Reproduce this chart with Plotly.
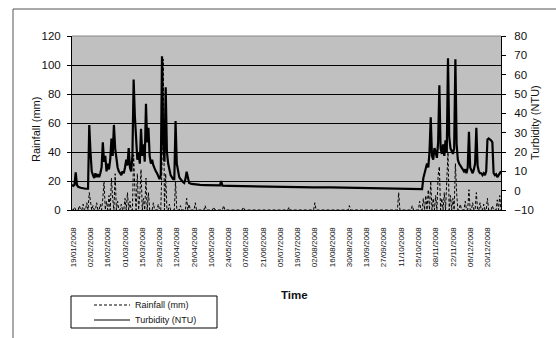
import plotly.graph_objects as go
import pandas as pd

# ---------------- data ----------------
turb_dates = [
    "2008-01-18", "2008-01-19", "2008-01-20", "2008-01-21", "2008-01-22", "2008-01-23", "2008-01-25",
    "2008-01-27", "2008-01-29", "2008-01-31",
    "2008-02-01", "2008-02-02", "2008-02-03", "2008-02-04", "2008-02-05", "2008-02-06", "2008-02-07",
    "2008-02-08", "2008-02-09", "2008-02-10", "2008-02-11", "2008-02-12", "2008-02-13", "2008-02-14",
    "2008-02-15", "2008-02-16", "2008-02-17", "2008-02-18", "2008-02-19", "2008-02-20", "2008-02-21",
    "2008-02-22", "2008-02-23", "2008-02-24", "2008-02-25", "2008-02-26", "2008-02-27", "2008-02-28",
    "2008-02-29",
    "2008-03-01", "2008-03-02", "2008-03-03", "2008-03-04", "2008-03-05", "2008-03-06", "2008-03-07",
    "2008-03-08", "2008-03-09", "2008-03-10", "2008-03-11", "2008-03-12", "2008-03-13", "2008-03-14",
    "2008-03-15", "2008-03-16", "2008-03-17", "2008-03-18", "2008-03-19", "2008-03-20", "2008-03-21",
    "2008-03-22", "2008-03-23", "2008-03-24", "2008-03-25", "2008-03-26", "2008-03-27", "2008-03-28",
    "2008-03-29", "2008-03-30", "2008-03-31",
    "2008-04-01", "2008-04-02", "2008-04-03", "2008-04-04", "2008-04-05", "2008-04-06", "2008-04-07",
    "2008-04-08", "2008-04-09", "2008-04-10", "2008-04-11", "2008-04-12", "2008-04-13", "2008-04-14",
    "2008-04-15", "2008-04-16", "2008-04-17", "2008-04-18", "2008-04-19", "2008-04-20", "2008-04-21",
    "2008-04-22", "2008-04-24", "2008-04-27",
    "2008-05-01", "2008-05-05", "2008-05-10", "2008-05-17", "2008-05-18", "2008-05-19", "2008-05-25",
    "2008-06-01", "2008-06-10", "2008-06-20", "2008-07-01", "2008-07-10", "2008-07-20", "2008-08-01",
    "2008-08-15", "2008-09-01", "2008-09-15", "2008-10-01", "2008-10-15", "2008-10-28",
    "2008-10-29", "2008-10-30", "2008-10-31",
    "2008-11-01", "2008-11-02", "2008-11-03", "2008-11-04", "2008-11-05", "2008-11-06", "2008-11-07",
    "2008-11-08", "2008-11-09", "2008-11-10", "2008-11-11", "2008-11-12", "2008-11-13", "2008-11-14",
    "2008-11-15", "2008-11-16", "2008-11-17", "2008-11-18", "2008-11-19", "2008-11-20", "2008-11-21",
    "2008-11-22", "2008-11-23", "2008-11-24", "2008-11-25", "2008-11-26", "2008-11-27", "2008-11-28",
    "2008-11-29", "2008-11-30",
    "2008-12-01", "2008-12-02", "2008-12-03", "2008-12-04", "2008-12-05", "2008-12-06", "2008-12-07",
    "2008-12-08", "2008-12-09", "2008-12-10", "2008-12-11", "2008-12-12", "2008-12-13", "2008-12-14",
    "2008-12-15", "2008-12-16", "2008-12-17", "2008-12-18", "2008-12-19", "2008-12-20", "2008-12-21",
    "2008-12-22", "2008-12-23", "2008-12-24", "2008-12-25", "2008-12-26", "2008-12-27", "2008-12-28",
    "2008-12-29", "2008-12-30", "2008-12-31",
]
turb_ntu = [
    3.0, 2.5, 3.0, 9.5, 3.0, 2.0, 1.5,
    1.2, 1.0, 1.0,
    34.0, 20.0, 10.0, 8.0, 6.5, 9.0, 7.0,
    8.5, 7.0, 9.0, 12.0, 25.0, 15.0, 18.0,
    10.0, 14.0, 11.0, 16.0, 27.0, 18.0, 34.0,
    22.0, 15.0, 12.0, 10.0, 9.0, 8.0, 10.0,
    9.0,
    12.0, 16.0, 13.0, 22.0, 12.0, 10.0, 18.0,
    57.5, 38.5, 25.0, 16.0, 20.0, 14.0, 32.0,
    18.0, 24.0, 15.0, 45.0, 25.0, 32.5, 18.0,
    14.0, 16.0, 13.0, 11.0, 10.0, 9.0, 7.0,
    6.0, 8.0, 69.5,
    25.0, 15.0, 53.5, 20.0, 14.0, 10.0, 8.0,
    7.0, 6.0, 6.0, 36.0, 14.0, 9.0, 7.0,
    6.0, 5.0, 4.5, 4.0, 6.0, 9.8, 6.0,
    4.0, 3.5, 3.2,
    3.0, 2.9, 2.8, 2.7, 5.0, 2.6, 2.5,
    2.4, 2.2, 2.2, 2.0, 2.0, 1.8, 1.7,
    1.7, 1.5, 1.4, 1.2, 1.0, 0.8,
    6.5, 9.0, 11.0,
    14.0, 12.0, 20.0, 38.0, 18.0, 16.0, 22.0,
    20.0, 17.0, 25.0, 54.5, 22.0, 19.0, 24.0,
    18.0, 26.0, 20.0, 68.5, 28.0, 22.0, 20.0,
    19.0, 22.0, 68.0, 24.0, 16.0, 14.0, 13.0,
    12.0, 11.0,
    10.0, 11.0, 9.0, 12.0, 30.5, 12.0, 10.0,
    9.0, 11.0, 14.0, 32.5, 13.0, 10.0, 9.0,
    9.0, 8.0, 9.0, 8.0, 10.0, 26.5, 27.0,
    26.5, 26.0, 25.0, 9.0, 8.0, 8.5, 7.0,
    8.0, 9.0, 10.0,
]

rain_dates = [
    "2008-01-20", "2008-01-24", "2008-01-27", "2008-01-30", "2008-02-01", "2008-02-02", "2008-02-04",
    "2008-02-07", "2008-02-10", "2008-02-12", "2008-02-13", "2008-02-15", "2008-02-17", "2008-02-19",
    "2008-02-20", "2008-02-22", "2008-02-24", "2008-02-27", "2008-03-01", "2008-03-03", "2008-03-05",
    "2008-03-08", "2008-03-09", "2008-03-11", "2008-03-13", "2008-03-14", "2008-03-16", "2008-03-18",
    "2008-03-20", "2008-03-24", "2008-03-28", "2008-03-31", "2008-04-01", "2008-04-03", "2008-04-06",
    "2008-04-11", "2008-04-15", "2008-04-20", "2008-04-22", "2008-04-27", "2008-05-05", "2008-05-12",
    "2008-05-20", "2008-06-05", "2008-07-12", "2008-08-02", "2008-08-30", "2008-10-09", "2008-10-20",
    "2008-10-26", "2008-10-29", "2008-10-31", "2008-11-02", "2008-11-04", "2008-11-06", "2008-11-08",
    "2008-11-10", "2008-11-11", "2008-11-13", "2008-11-15", "2008-11-17", "2008-11-18", "2008-11-20",
    "2008-11-22", "2008-11-24", "2008-11-25", "2008-11-28", "2008-12-02", "2008-12-05", "2008-12-08",
    "2008-12-11", "2008-12-14", "2008-12-17", "2008-12-20", "2008-12-24", "2008-12-28", "2008-12-30",
]
rain_mm = [
    2, 3, 4, 5, 12, 6, 3,
    5, 4, 8, 20, 6, 10, 22,
    8, 25, 6, 4, 8, 12, 6,
    38, 14, 25, 10, 28, 8, 22,
    12, 5, 4, 30, 104, 25, 4,
    20, 3, 8, 4, 5, 3, 2,
    3, 2, 2, 5, 3, 12, 3,
    6, 8, 10, 14, 20, 8, 10,
    24, 30, 8, 12, 20, 40, 10,
    8, 32, 12, 4, 6, 14, 5,
    12, 5, 4, 8, 3, 7, 10,
]

tick_dates = [
    "2008-01-19", "2008-02-02", "2008-02-16", "2008-03-01", "2008-03-15", "2008-03-29", "2008-04-12",
    "2008-04-26", "2008-05-10", "2008-05-24", "2008-06-07", "2008-06-21", "2008-07-05", "2008-07-19",
    "2008-08-02", "2008-08-16", "2008-08-30", "2008-09-13", "2008-09-27", "2008-10-11", "2008-10-25",
    "2008-11-08", "2008-11-22", "2008-12-06", "2008-12-20",
]
tick_text = [pd.Timestamp(d).strftime("%d/%m/%Y") for d in tick_dates]

series_names = ["Rainfall (mm)", "Turbidity (NTU)"]

# daily rainfall series (days without recorded rain are 0 mm)
days = pd.date_range("2008-01-18", "2008-12-31", freq="D")
rain_lookup = dict(zip(pd.to_datetime(rain_dates), rain_mm))
rain_daily = [rain_lookup.get(d, 0) for d in days]

# ---------------- figure ----------------
W, H = 556, 338
L, R, T, B = 72, 55, 36, 128
pw, ph = W - L - R, H - T - B


def px_x(px):
    return (px - L) / pw


def px_y(py):
    return (H - B - py) / ph


rain_line = dict(color="black", width=1, dash="3px,2px")
turb_line = dict(color="black", width=2.2)

fig = go.Figure()
fig.add_trace(go.Scatter(
    x=days, y=rain_daily, mode="lines", name=series_names[0],
    line=rain_line, yaxis="y",
))
fig.add_trace(go.Scatter(
    x=pd.to_datetime(turb_dates), y=turb_ntu, mode="lines", name=series_names[1],
    line=turb_line, yaxis="y2",
))

font_fam = "Liberation Sans, Arial, sans-serif"

# compact Excel-style legend box drawn in paper space
leg_x0, leg_x1, leg_y0, leg_y1 = 71, 217, 296, 328
leg_rows = [305, 320]
legend_shapes = [
    dict(type="rect", xref="paper", yref="paper", x0=px_x(leg_x0), x1=px_x(leg_x1),
         y0=px_y(leg_y0), y1=px_y(leg_y1), line=dict(color="black", width=1),
         fillcolor="white"),
    dict(type="line", xref="paper", yref="paper", x0=px_x(94), x1=px_x(130),
         y0=px_y(leg_rows[0]), y1=px_y(leg_rows[0]), line=rain_line),
    dict(type="line", xref="paper", yref="paper", x0=px_x(94), x1=px_x(130),
         y0=px_y(leg_rows[1]), y1=px_y(leg_rows[1]), line=dict(color="black", width=1.2)),
]
legend_ann = [
    dict(text=series_names[i], x=px_x(133), y=px_y(leg_rows[i]), xref="paper", yref="paper",
         xanchor="left", yanchor="middle", showarrow=False, font=dict(size=9, color="#111"))
    for i in range(2)
]

fig.update_layout(
    width=W, height=H,
    margin=dict(l=L, r=R, t=T, b=B, pad=0, autoexpand=False),
    paper_bgcolor="white",
    plot_bgcolor="#c0c0c0",
    font=dict(family=font_fam, color="#111", size=11),
    showlegend=False,
    xaxis=dict(
        type="date",
        range=["2008-01-18", "2008-12-31"],
        tickmode="array", tickvals=tick_dates, ticktext=tick_text,
        tickangle=-90, tickfont=dict(size=8),
        ticks="", ticklabelstandoff=13, automargin=False,
        showgrid=False, zeroline=False,
        showline=True, linecolor="black", linewidth=1,
    ),
    yaxis=dict(
        range=[0, 120], tickvals=[0, 20, 40, 60, 80, 100, 120],
        tickfont=dict(size=11.5), automargin=False,
        ticks="outside", ticklen=4, tickcolor="black",
        ticklabelstandoff=4,
        showgrid=True, gridcolor="black", gridwidth=1,
        zeroline=False, showline=True, linecolor="black", linewidth=1,
    ),
    yaxis2=dict(
        overlaying="y", side="right",
        range=[-10, 80], tickvals=[-10, 0, 10, 20, 30, 40, 50, 60, 70, 80],
        tickfont=dict(size=11.5), automargin=False,
        ticks="outside", ticklen=4, tickcolor="black",
        ticklabelstandoff=6,
        showgrid=False, zeroline=False,
        showline=True, linecolor="black", linewidth=1,
    ),
    annotations=[
        dict(text="Rainfall (mm)", x=px_x(28), y=px_y(130), xref="paper", yref="paper",
             textangle=-90, showarrow=False, font=dict(size=11, color="#111")),
        dict(text="Turbidity (NTU)", x=px_x(543), y=px_y(123), xref="paper", yref="paper",
             textangle=-90, showarrow=False, font=dict(size=11, color="#111")),
        dict(text="<b>Time</b>", x=px_x(294), y=px_y(303), xref="paper", yref="paper",
             showarrow=False, font=dict(size=11.5, color="#111")),
    ] + legend_ann,
    shapes=[
        dict(type="line", xref="paper", yref="paper", x0=px_x(13), x1=px_x(560),
             y0=px_y(9), y1=px_y(9), line=dict(color="#555", width=1)),
        dict(type="line", xref="paper", yref="paper", x0=px_x(13), x1=px_x(13),
             y0=px_y(9), y1=px_y(345), line=dict(color="#555", width=1)),
        dict(type="line", xref="paper", yref="paper", x0=0, x1=1, y0=1, y1=1,
             line=dict(color="#888", width=1)),
    ] + legend_shapes,
)

fig.write_html("out.html")
